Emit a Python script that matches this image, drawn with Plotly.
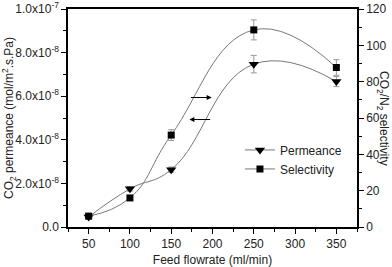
import plotly.graph_objects as go

flow = [50, 100, 150, 250, 350]
permeance = [4.6e-9, 1.75e-8, 2.63e-8, 7.47e-8, 6.67e-8]
perm_err = [1.0e-9, 1.0e-9, 1.2e-9, 4.0e-9, 2.3e-9]
selectivity = [6.0, 16.0, 50.6, 108.5, 87.8]
sel_err = [1.0, 1.0, 3.0, 5.5, 4.3]

left_tickvals = [0, 2e-8, 4e-8, 6e-8, 8e-8, 1e-7]
left_ticktext = ["0.0", "2.0x10<sup>-8</sup>", "4.0x10<sup>-8</sup>", "6.0x10<sup>-8</sup>",
                 "8.0x10<sup>-8</sup>", "1.0x10<sup>-7</sup>"]

font = "Liberation Sans, Arial, sans-serif"
gray = "#777777"

fig = go.Figure()
fig.add_trace(go.Scatter(
    x=flow, y=permeance, name="Permeance", mode="lines+markers",
    line=dict(color=gray, width=1, shape="spline", smoothing=1.3),
    marker=dict(symbol="triangle-down", color="black", size=9),
    error_y=dict(type="data", array=perm_err, color="#999999", thickness=1, width=3),
    yaxis="y"))
fig.add_trace(go.Scatter(
    x=flow, y=selectivity, name="Selectivity", mode="lines+markers",
    line=dict(color=gray, width=1, shape="spline", smoothing=1.3),
    marker=dict(symbol="square", color="black", size=7),
    error_y=dict(type="data", array=sel_err, color="#999999", thickness=1, width=3),
    yaxis="y2"))

# arrows
fig.add_annotation(x=199, y=5.94e-8, ax=172, ay=5.94e-8, xref="x", yref="y",
                   axref="x", ayref="y", showarrow=True, arrowhead=2, arrowsize=1,
                   arrowwidth=1, arrowcolor="black", text="")
fig.add_annotation(x=172, y=4.93e-8, ax=199, ay=4.93e-8, xref="x", yref="y",
                   axref="x", ayref="y", showarrow=True, arrowhead=2, arrowsize=1,
                   arrowwidth=1, arrowcolor="black", text="")

# right axis title (reads top-to-bottom)
fig.add_annotation(text="CO<sub>2</sub>/N<sub>2</sub> selectivity", textangle=90,
                   xref="paper", yref="paper", x=1.09, y=0.5, showarrow=False,
                   xanchor="center", yanchor="middle",
                   font=dict(family=font, size=12, color="#222"))

axis_common = dict(showline=True, linecolor="black", linewidth=1.5, ticks="outside",
                   ticklen=5, tickcolor="black", showgrid=False, zeroline=False,
                   automargin=False, ticklabeloverflow="allow",
                   tickfont=dict(family=font, size=12, color="#222"))

fig.update_layout(
    width=392, height=267,
    margin=dict(l=68, r=35, t=9, b=40),
    plot_bgcolor="white", paper_bgcolor="white",
    font=dict(family=font, size=12, color="#222"),
    showlegend=True,
    legend=dict(x=0.595, y=0.42, xanchor="left", yanchor="top", bgcolor="rgba(0,0,0,0)",
                font=dict(family=font, size=12, color="#222"), itemwidth=30,
                tracegroupgap=0),
    xaxis=dict(range=[25, 375], tickvals=[50, 100, 150, 200, 250, 300, 350],
               minor=dict(dtick=25, ticks="outside", ticklen=3, tickcolor="black"),
               title=dict(text="Feed flowrate (ml/min)",
                          font=dict(family=font, size=12)),
               mirror=True, **axis_common),
    yaxis=dict(range=[0, 1e-7], tickvals=left_tickvals, ticktext=left_ticktext,
               minor=dict(dtick=1e-8, ticks="outside", ticklen=3, tickcolor="black"),
               title=dict(text="CO<sub>2</sub> permeance (mol/m<sup>2</sup>.s.Pa)",
                          font=dict(family=font, size=12)),
               **axis_common),
    yaxis2=dict(range=[0, 120], overlaying="y", side="right", tickvals=[0, 20, 40, 60, 80, 100, 120],
                minor=dict(dtick=10, ticks="outside", ticklen=3, tickcolor="black"),
                **axis_common),
)

fig.write_html("out.html", config={"displayModeBar": False},
               post_script="document.body.style.margin='0';document.body.style.overflow='hidden';")
